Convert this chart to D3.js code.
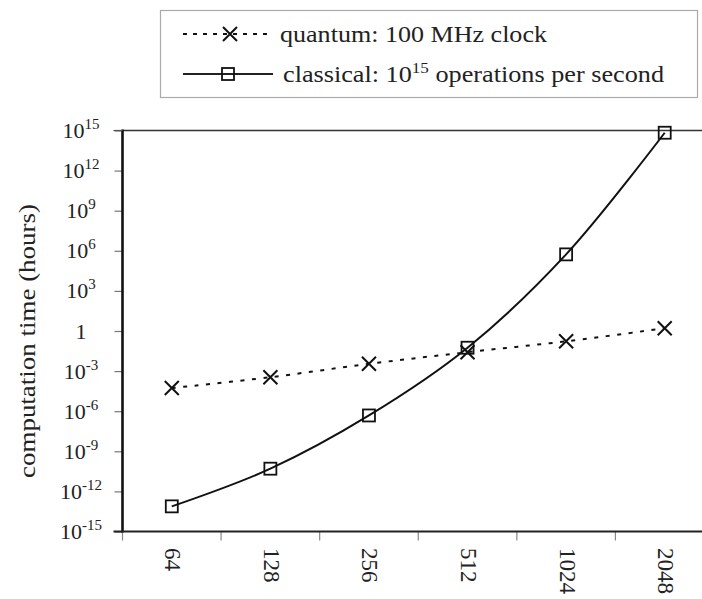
<!DOCTYPE html>
<html>
<head>
<meta charset="utf-8">
<script src="https://cdn.jsdelivr.net/npm/d3@7"></script>
<style>
html,body{margin:0;padding:0;background:#fff;}
svg{display:block;}
text{font-family:"Liberation Serif","Times New Roman",serif;fill:#222;}
</style>
</head>
<body>
<svg id="chart" width="702" height="599"></svg>
<script>
// ---- data ----
const categories = ["64", "128", "256", "512", "1024", "2048"];
const quantumHours = [5.4e-5, 3.5e-4, 3.5e-3, 0.026, 0.17, 1.6];
const classicalHours = [7.6e-14, 5.0e-11, 4.8e-7, 0.056, 5.4e5, 6.8e14];
const yTickExponents = [15, 12, 9, 6, 3, 0, -3, -6, -9, -12, -15];
const legendLabels = ["quantum: 100 MHz clock", "classical: 10", "15", " operations per second"];
const yAxisTitle = "computation time (hours)";

// ---- layout ----
const svg = d3.select("#chart");
const plot = {left: 122.5, right: 714, top: 130.5, bottom: 531.5};

const x = d3.scaleBand().domain(categories).range([plot.left, plot.right]).padding(0);
const y = d3.scaleLog().domain([1e-15, 1e15]).range([plot.bottom, plot.top]);
const cx = c => x(c) + x.bandwidth() / 2;

// frame (top + right clipped by the window)
svg.append("line").attr("x1", plot.left).attr("x2", plot.right)
  .attr("y1", plot.top).attr("y2", plot.top)
  .attr("stroke", "#333").attr("stroke-width", 1.6);
svg.append("line").attr("x1", plot.right).attr("x2", plot.right)
  .attr("y1", plot.top).attr("y2", plot.bottom)
  .attr("stroke", "#333").attr("stroke-width", 1.6);

// y axis
const yAxis = d3.axisLeft(y)
  .tickValues(yTickExponents.map(e => Math.pow(10, e)))
  .tickSize(8).tickFormat("");
const gy = svg.append("g").attr("transform", `translate(${plot.left},0)`).call(yAxis);
gy.select(".domain").remove();
gy.selectAll(".tick line").attr("stroke", "#777").attr("stroke-width", 1.2);

// y tick labels: 10^n
const yLab = svg.append("g");
yTickExponents.forEach(e => {
  const t = yLab.append("text")
    .attr("x", 81).attr("y", y(Math.pow(10, e)) + 7.5)
    .attr("text-anchor", "middle").style("font-size", "22px");
  if (e === 0) {
    t.text("1");
  } else {
    t.append("tspan").text("10");
    t.append("tspan").attr("dy", -9).style("font-size", "15px").text(String(e));
  }
});

// x axis
const xAxis = d3.axisBottom(x).tickSize(0).tickFormat("");
const gx = svg.append("g").attr("transform", `translate(0,${plot.bottom})`).call(xAxis);
gx.select(".domain").remove();
// ticks at band boundaries
svg.append("g").selectAll("line").data(categories).join("line")
  .attr("x1", d => x(d)).attr("x2", d => x(d))
  .attr("y1", plot.bottom).attr("y2", plot.bottom + 9)
  .attr("stroke", "#888").attr("stroke-width", 1.2);
// rotated category labels
svg.append("g").selectAll("text").data(categories).join("text")
  .attr("transform", d => `translate(${cx(d) + 1},548) rotate(90)`)
  .attr("dy", "0.33em")
  .attr("text-anchor", "start")
  .style("font-size", "23px")
  .text(d => d);

// axis lines (thick)
svg.append("line").attr("x1", plot.left).attr("x2", plot.left)
  .attr("y1", plot.top - 1).attr("y2", plot.bottom + 1)
  .attr("stroke", "#111").attr("stroke-width", 2.6);
svg.append("line").attr("x1", plot.left - 9).attr("x2", plot.right)
  .attr("y1", plot.bottom).attr("y2", plot.bottom)
  .attr("stroke", "#222").attr("stroke-width", 2.2);
svg.append("line").attr("x1", plot.left - 9).attr("x2", plot.left)
  .attr("y1", plot.top).attr("y2", plot.top)
  .attr("stroke", "#555").attr("stroke-width", 1.2);

// y axis title
svg.append("text")
  .attr("transform", "translate(35,341) rotate(-90)")
  .attr("text-anchor", "middle")
  .style("font-size", "23px")
  .attr("textLength", 274).attr("lengthAdjust", "spacingAndGlyphs")
  .text(yAxisTitle);

// ---- series ----
const line = d3.line()
  .x((d, i) => cx(categories[i]))
  .y(d => y(d))
  .curve(d3.curveCatmullRom.alpha(0.5));

svg.append("path").datum(quantumHours)
  .attr("d", line).attr("fill", "none")
  .attr("stroke", "#111").attr("stroke-width", 2)
  .attr("stroke-dasharray", "4,7.5");

svg.append("path").datum(classicalHours)
  .attr("d", line).attr("fill", "none")
  .attr("stroke", "#111").attr("stroke-width", 2);

function drawX(g, px, py, r) {
  g.append("path")
    .attr("d", `M${px - r},${py - r}L${px + r},${py + r}M${px - r},${py + r}L${px + r},${py - r}`)
    .attr("stroke", "#111").attr("stroke-width", 2).attr("fill", "none");
}
function drawSquare(g, px, py, s) {
  g.append("rect").attr("x", px - s / 2).attr("y", py - s / 2)
    .attr("width", s).attr("height", s)
    .attr("fill", "none").attr("stroke", "#111").attr("stroke-width", 1.8);
}

const markers = svg.append("g");
classicalHours.forEach((v, i) => drawSquare(markers, cx(categories[i]), y(v), 12));
quantumHours.forEach((v, i) => drawX(markers, cx(categories[i]), y(v), 7));

// ---- legend ----
const lg = svg.append("g");
lg.append("rect").attr("x", 160.5).attr("y", 10.5).attr("width", 537).attr("height", 87)
  .attr("fill", "#fff").attr("stroke", "#aaa").attr("stroke-width", 1.2);

lg.append("line").attr("x1", 183).attr("x2", 271).attr("y1", 34).attr("y2", 34)
  .attr("stroke", "#111").attr("stroke-width", 2).attr("stroke-dasharray", "4,6");
drawX(lg, 230, 34, 7);
lg.append("text").attr("x", 280).attr("y", 41.5)
  .style("font-size", "23px")
  .attr("textLength", 267).attr("lengthAdjust", "spacingAndGlyphs")
  .text(legendLabels[0]);

lg.append("line").attr("x1", 183).attr("x2", 273).attr("y1", 74).attr("y2", 74)
  .attr("stroke", "#222").attr("stroke-width", 2);
drawSquare(lg, 228, 74, 12);
const t2 = lg.append("text").attr("x", 283).attr("y", 81.5)
  .style("font-size", "23px")
  .attr("textLength", 381).attr("lengthAdjust", "spacingAndGlyphs");
t2.append("tspan").text(legendLabels[1]);
t2.append("tspan").attr("dy", -9).style("font-size", "15px").text(legendLabels[2]);
t2.append("tspan").attr("dy", 9).text(legendLabels[3]);
</script>
</body>
</html>
